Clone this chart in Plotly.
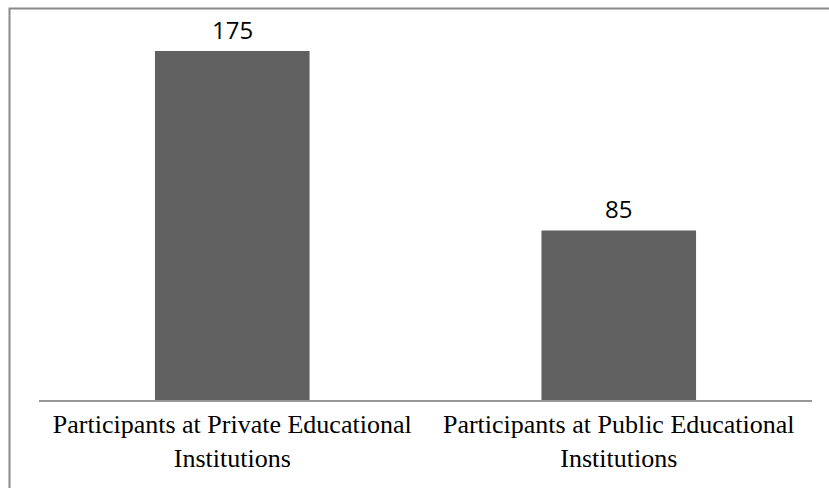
import plotly.graph_objects as go

categories = ["Participants at Private Educational<br>Institutions",
              "Participants at Public Educational<br>Institutions"]
values = [175, 85]
value_labels = ["175", "85"]

W, H = 829, 488
ml, mr, mt, mb = 39, 17, 10, 88
pw = W - ml - mr
ph = H - mt - mb
ymax = 195.6

fig = go.Figure()
fig.add_trace(go.Bar(x=categories, y=values, width=0.4,
                     marker=dict(color="#606060", line=dict(width=0)),
                     hoverinfo="skip"))

for c, v, t in zip(categories, values, value_labels):
    fig.add_annotation(x=c, y=v, text=t, showarrow=False, yanchor="middle",
                       yshift=22, font=dict(family="Open Sans", size=24, color="#000"))

# outer border (top and left)
fig.add_shape(type="rect", xref="paper", yref="paper",
              x0=(9.5 - ml) / pw, x1=(W + 20 - ml) / pw,
              y0=-(H + 20 - mt - ph) / ph, y1=(H - mb - 8.5) / ph + 0,
              line=dict(color="#8a8a8a", width=2), layer="above")

fig.update_layout(
    width=W, height=H,
    margin=dict(l=ml, r=mr, t=mt, b=mb),
    paper_bgcolor="white", plot_bgcolor="white",
    showlegend=False, bargap=0.6,
    xaxis=dict(showline=True, linecolor="#979797", linewidth=2, ticks="",
               showgrid=False, zeroline=False,
               tickfont=dict(family="Liberation Serif", size=26, color="#000"),
               ticklabelstandoff=0),
    yaxis=dict(range=[0, ymax], visible=False, showgrid=False, zeroline=False),
)

fig.write_html("out.html")
